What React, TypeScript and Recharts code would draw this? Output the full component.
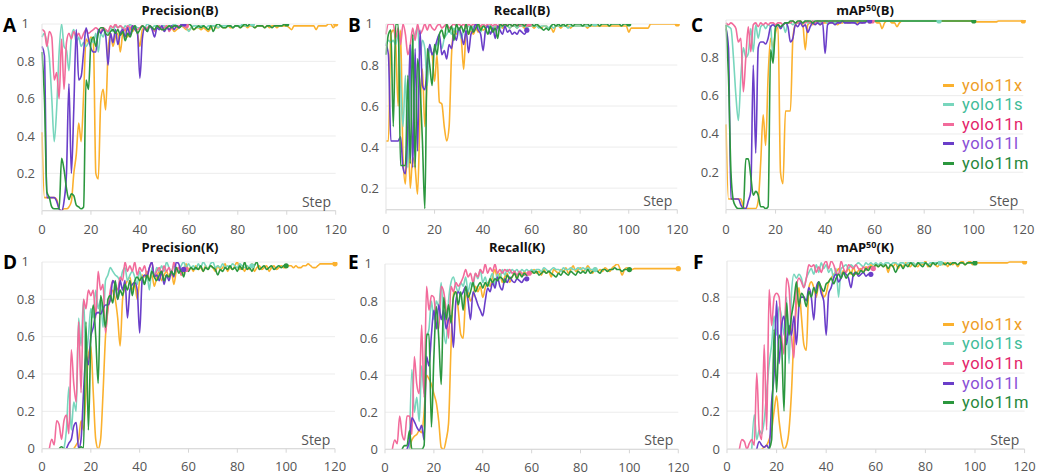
import { CartesianGrid, Line, LineChart, XAxis, YAxis } from "recharts";

const _ = null;

const STEPS = Array.from({ length: 121 }, (_v, i) => i);
const X_TICKS = [0, 20, 40, 60, 80, 100, 120];
const MODELS = ["yolo11x", "yolo11s", "yolo11n", "yolo11l", "yolo11m"];

// ---- Precision(B)
const precB_x = [
  .42, .07, .07, .07, .07, .07, .06, .01, 0, .01,
  .01, .02, .05, .2, .3, .47, .37, .62, .92, .9,
  .93, .9, .2, .17, .58, .65, .54, .85, .95, .88,
  .93, .95, .85, .95, .97, .93, .98, .96, .98, .95,
  .88, .97, .98, .97, .99, .98, .97, .99, .98, .97,
  .98, .99, .97, .98, .96, .97, .98, .99, .98, .97,
  .97, .98, .97, .98, .98, .97, .98, .97, .96, .98,
  .99, .98, .98, .99, .98, .98, .99, .98, .98, .99,
  .99, .98, .99, .99, .98, .99, .99, .98, .99, .99,
  .99, .98, .99, .98, .99, .99, .98, .99, .99, .99,
  .99, .98, .97, .99, .99, .99, .99, .99, .99, .99,
  .99, .99, .97, .99, .99, .99, .99, 1, 1, .98,
  1,
];
const precB_s = [
  .93, .95, .9, .82, .6, .37, .55, .85, 1, .88,
  .86, .75, .93, .97, .9, .93, .88, .9, .88, .9,
  .92, .9, .95, .85, .95, .93, .97, .95, .98, .96,
  .99, .98, .99, .97, .99, .98, 1, .98, .99, .98,
  .98, .99, .98, 1, .99, .98, .99, .99, .98, .99,
  .99, .98, .99, .99, 1, .99, .98, .99, .99, .98,
  .96, .98, .99, .99, .98, .99, .99, .98, .99, .99,
  .99, .99, .98, .99, .99, .99, .99, .99, .98, .99,
  .99, .99, 1, .99, .99, 1, 1,
];
const precB_n = [
  .97, .96, .88, .96, .93, .7, .74, .6, .92, .65,
  .9, .95, .92, .96, .93, .95, .92, .95, .97, .95,
  .96, .97, .98, .97, .96, .98, .97, .96, .99, .98,
  1, .98, .99, .98, .97, .99, .98, .99, .98, .97,
  .98, .99, .97, .98, .99, .98, .96, .98, .99, .97,
  .98, .99, .96, .98, .99, .98, .99, .99, 1, .99,
];
const precB_l = [
  .88, .83, .07, .07, .07, .07, .05, .01, 0, .05,
  .2, .68, .2, .55, .97, .7, .72, .85, .98, .92,
  .87, .85, .85, .97, .95, .97, .94, .78, .95, .9,
  .97, .89, .95, .97, .93, .98, .94, .99, .97, .95,
  .71, .92, .98, .96, .99, .97, .93, .98, .97, .99,
  .96, .98, .97, .99, .97, .99, .98, 1, 1,
];
const precB_m = [
  .85, .6, .1, .07, .02, .01, .01, .01, .28, .22,
  .12, .06, .09, .08, .03, .02, .01, .02, .7, .65,
  .9, .93, .88, .95, .98, .98, .95, .94, .96, .97,
  .95, .97, .94, .96, .91, .95, .93, .97, .99, .95,
  .97, .99, .98, .96, .99, .98, .97, .99, .98, .97,
  .97, .98, .99, .98, .99, .99, .98, .99, 1, .99,
  1, .99, .97, .98, .99, .98, .99, .98, .97, .99,
  .96, .99, 1, .99, .98, .98, .99, .99, .98, .99,
  .99, .98, .99, 1, .99, 1, .99, .98, .99, .99,
  .99, .98, .99, .99, .98, .99, .99, .99, .99, 1,
  1,
];

// ---- Recall(B)
const recB_x = [
  .43, .43, .95, .97, .9, .6, .97, .35, .22, .5,
  .2, .35, .3, .17, .55, .78, .5, .75, .88, .85,
  .72, .85, .62, .61, .5, .43, .5, .85, .97, .95,
  .98, .93, .78, .96, .95, .97, .95, .98, .96, .99,
  .97, .98, .99, .98, .97, .99, .98, .99, .98, .99,
  .99, .98, .99, .99, .98, .99, .99, .98, .99, .99,
  .99, .98, .99, .99, .98, .99, .99, .98, .98, .96,
  .99, .99, .98, .99, .99, .99, .98, .99, .99, .99,
  .99, .99, .99, .98, .99, .99, .99, .99, .99, .99,
  .99, .99, .99, .99, .99, .99, .99, .99, .99, .99,
  .96, .98, .98, .98, .98, .98, .98, .98, .98, 1,
  1, 1, 1, 1, 1, 1, 1, 1, 1, 1,
  1,
];
const recB_s = [
  .9, .92, .91, .92, .9, .95, .72, .5, .75, .3,
  .75, .9, .95, .98, .85, .92, .88, .7, .9, .85,
  .87, .9, .92, .88, .93, .95, .97, .95, .98, .96,
  .98, .93, .97, .98, .99, .97, .99, .98, .99, .96,
  .99, .98, .99, .99, .98, .99, .99, .98, .99, .99,
  .99, .98, .99, .99, .98, .99, .99, .99, .98, .99,
  .99, .99, .99, .98, .99, .99, .99, .98, .99, .98,
  .99, .99, .99, .99, .99, .98, .99, .99, .99, .99,
  .99, .99, .99, .99, .99, 1, 1,
];
const recB_n = [
  .95, 1, 1, 1, .93, .98, .9, 1, .95, .85,
  .9, .98, .92, 1, .95, .97, 1, .97, 1, .98,
  .97, .99, 1, .98, .99, 1, .98, .99, 1, .99,
  1, .99, 1, .98, 1, .99, 1, .99, 1, .99,
  1, .99, 1, 1, .99, 1, .99, 1, 1, .99,
  1, 1, .99, 1, 1, .99, 1, 1, .99, 1,
];
const recB_l = [
  .9, .85, .43, .43, .43, .43, .45, .3, .27, .5,
  .9, .3, .88, .38, .97, .7, .68, .8, .9, .85,
  .88, .92, .95, .85, .87, .83, .9, .88, .95, .92,
  .98, .95, .9, .97, .86, .95, .97, 1, .97, .95,
  .87, .97, .99, .95, .98, .93, .99, .97, .95, .99,
  .96, .97, .95, .96, .95, .97, .96, .95, .97,
];
const recB_m = [
  .85, .95, .97, .5, 1, 1, .31, .31, .31, .75,
  .32, .95, .3, .83, .7, .43, .1, .88, .8, .7,
  .9, .85, .95, .97, .93, 1, .96, .99, .92, 1,
  .97, .99, .96, 1, .95, .99, .96, .98, 1, .97,
  .99, .98, .95, .99, .96, .98, .93, 1, .99, 1,
  .99, 1, .99, 1, .99, 1, 1, .99, 1, .99,
  1, .99, 1, .99, .98, .97, .98, .97, .99, 1,
  .99, 1, .99, 1, .99, 1, 1, .99, 1, 1,
  1, .99, 1, 1, .99, 1, 1, 1, .99, 1,
  1, 1, .99, 1, 1, 1, 1, .99, 1, 1,
  1,
];

// ---- mAP50(B)
const mapB_x = [
  .45, .06, .06, .06, .06, .06, .06, .02, .01, .01,
  .01, .01, .01, .05, .25, .5, .34, .7, .9, .85,
  .93, .96, .2, .14, .52, .52, .52, .9, .97, .98,
  .98, .97, .84, .97, .98, .97, .98, .98, .97, .98,
  .98, .98, .99, .98, .98, .97, .98, .98, .99, .98,
  .98, .99, .98, .98, .99, .98, .99, .99, .98, .99,
  .99, .98, .98, .95, .98, .99, .99, .98, .98, .96,
  .98, .99, .99, .99, .99, .99, .99, .99, .99, .99,
  .99, .99, .99, .99, .99, .99, .99, .99, .99, .99,
  .99, .99, .99, .99, .99, .99, .99, .99, .99, .99,
  .99, .985, .985, .985, .985, .985, .985, .985, .985, .985,
  .99, .99, .99, .99, .99, .99, .99, .99, .99, .99,
  .99,
];
const mapB_s = [
  .97, .96, .95, .8, .6, .47, .7, .85, .8, .82,
  .95, .83, .97, .9, .96, .97, .95, .97, .96, .8,
  .95, .97, .96, .97, .93, .98, .98, .97, .98, .98,
  .98, .98, .99, .98, .98, .99, .98, .99, .98, .99,
  .99, .98, .99, .99, .98, .99, .99, .99, .98, .99,
  .99, .99, .98, .99, .99, .99, .99, .99, .99, .99,
  .99, .99, .99, .99, .99, .99, .99, .99, .99, .99,
  .99, .99, .99, .99, .99, .99, .99, .99, .99, .99,
  .99, .99, .99, .99, .99, .99, .99,
];
const mapB_n = [
  .98, .97, .98, .97, .95, .88, .9, .62, .8, .96,
  .83, .97, .98, .96, .98, .97, .98, .97, .98, .98,
  .97, .98, .98, .97, .98, .98, .98, .99, .98, .98,
  .99, .98, .98, .99, .98, .99, .98, .99, .99, .98,
  .99, .99, .98, .99, .99, .99, .98, .99, .99, .99,
  .99, .99, .99, .99, .99, .98, .99, .99, .99, .99,
];
const mapB_l = [
  .95, .85, .06, .06, .06, .06, .03, .01, .01, .05,
  .1, .76, .3, .85, .88, .88, .87, .9, .96, .97,
  .96, .97, .95, .97, .98, .96, .88, .9, .97, .96,
  .98, .96, .97, .93, .96, .98, .97, .98, .97, .98,
  .82, .97, .98, .98, .97, .98, .98, .99, .98, .98,
  .98, .98, .98, .97, .98, .98, .98, .99, .99,
];
const mapB_m = [
  .97, .7, .2, .05, .02, .01, .01, .01, .27, .27,
  .18, .08, .1, .08, .02, .02, .01, .02, .84, .77,
  .96, .97, .96, .97, .98, .98, .99, .99, .98, .99,
  .99, .98, .99, .99, .99, .98, .99, .99, .99, .99,
  .99, .99, .99, .99, .99, .99, .99, .99, .99, .99,
  .99, .99, .99, .99, .99, .99, .99, .99, .99, .99,
  .99, .99, .99, .99, .99, .99, .99, .99, .99, .99,
  .99, .99, .99, .99, .99, .99, .99, .99, .99, .99,
  .99, .99, .99, .99, .99, .99, .99, .99, .99, .99,
  .99, .99, .99, .99, .99, .99, .99, .99, .99, .99,
  .99,
];

// ---- Precision(K)
const precK_x = [
  _, _, _, _, _, _, _, _, _, _,
  _, _, _, 0, .02, .05, .15, .1, .3, .5,
  .55, .3, .05, 0, .05, .3, .6, .75, .8, .85,
  .8, .7, .55, .8, .87, .9, .92, .85, .88, .8,
  .9, .93, .92, .95, .9, .93, .87, .92, .95, .9,
  .93, .95, .92, .95, .88, .95, .97, .93, .95, .99,
  .96, .97, .95, .98, .96, .97, .95, .98, .96, .98,
  .97, .95, .98, .96, .97, .99, .95, .97, .96, .98,
  1, .96, .97, .95, .98, .96, .99, .95, .97, .98,
  .96, .97, .98, .95, .97, .98, .96, .97, .98, .97,
  .97, .98, .98, .97, .98, .97, .97, .98, .98, .99,
  .98, .97, .97, .98, .99, .99, .99, .99, .99, .99,
  .99,
];
const precK_s = [
  _, _, _, _, _, _, _, _, _, 0,
  .1, .33, .1, .25, .2, .7, .55, .8, .5, .6,
  .75, .7, .85, .75, .8, .65, .9, .93, .97, .95,
  .93, .92, .9, .95, .97, .9, .93, .95, .92, .88,
  .95, .9, .88, .93, .85, .97, .92, .97, .95, .98,
  .95, 1, .97, .95, .98, .97, .95, .98, 1, .97,
  .99, .97, .98, .96, .99, .97, 1, .98, .96, .99,
  1, .97, .98, .97, .99, .97, .98, .97, .99, .98,
  .97, .99, .98, .97, .98, .97, .98,
];
const precK_n = [
  _, _, _, 0, .05, .02, .15, .13, .05, .15,
  .18, .08, .53, .35, .25, .68, .3, .8, .75, .85,
  .82, .85, .7, .95, .85, .88, .62, .75, .85, .9,
  .88, .85, .92, .9, 1, .95, .98, .95, 1, .93,
  .97, .95, .98, .93, .97, 1, .92, .95, .97, .93,
  .98, .95, .97, .93, 1, .95, .97, .93, .97, .96,
];
const precK_l = [
  _, _, _, _, _, _, _, _, _, _,
  0, .03, .05, .12, .14, 0, .05, .3, .5, .45,
  .6, .65, .72, .73, .72, .75, .77, .77, .8, .9,
  .87, .8, .9, .85, .9, .7, .85, .88, .89, .85,
  .62, .9, .93, .92, .97, 1, .92, .93, .9, .95,
  .88, .93, .9, .95, .92, 1, .99, .95, .96,
];
const precK_m = [
  _, _, _, _, _, _, _, 0, .01, 0,
  0, 0, 0, 0, 0, 0, .01, 0, .68, .1,
  .6, .77, .6, .35, .82, .75, .65, .8, .82, .78,
  .9, .8, .85, .82, .88, .85, .9, .82, .9, .92,
  .9, .92, .88, .93, .9, .95, .92, .9, .93, .95,
  .9, .93, .92, .95, .93, .97, .94, .96, .92, .97,
  .95, .97, .96, .97, .96, .98, .95, .97, .96, .98,
  .97, .96, .93, .96, .95, .97, .96, .98, .96, .97,
  .95, .98, .96, 1, .96, .97, .95, .98, 1, .96,
  .97, .98, .96, .97, .98, .96, .97, .98, .97, .98,
  .98,
];

// ---- Recall(K)
const recK_x = [
  _, _, _, _, _, _, _, _, _, _,
  0, .05, .07, .08, .1, .09, .2, .4, .38, .35,
  .3, .25, .15, .01, 0, .05, .14, .55, .85, .85,
  .75, .62, .6, .82, .85, .8, .83, .88, .85, .88,
  .82, .87, .9, .88, .93, .97, .92, .95, .9, .93,
  .95, .9, .93, .95, .92, .95, .94, .96, .94, .96,
  .95, .97, .95, .96, .94, .97, .95, .96, .93, .97,
  .96, .95, .97, .96, .98, .95, .97, .99, .96, .97,
  .98, .96, .97, .99, .97, .95, .98, .96, .97, .96,
  .98, .97, .96, .98, .99, 1, .98, .94, .97, .98,
  .97, .97, .975, .975, .975, .975, .975, .975, .975, .975,
  .975, .975, .975, .975, .975, .975, .975, .975, .975, .975,
  .975,
];
const recK_s = [
  _, _, _, _, _, _, _, _, _, _,
  0, .43, .2, .28, .15, .45, .3, .6, .65, .8,
  .7, .8, .77, .9, .65, .57, .8, .9, .93, .88,
  .85, .9, .88, .93, .85, .9, .88, .95, .92, .97,
  .9, .93, .88, .92, .95, .88, .95, .92, .97, .94,
  .97, .95, .97, .96, .97, .95, .97, .96, .97, .96,
  .97, .96, .97, .97, .96, .98, .97, .96, .97, .98,
  .97, .97, .96, .98, .97, .97, .98, .97, .97, .98,
  .97, .98, .97, .98, .97, .97, .97,
];
const recK_n = [
  _, _, _, 0, .05, .03, .18, .08, .05, .18,
  .18, .08, .5, .35, .3, .67, .28, .88, .75, .83,
  .82, .68, .65, .88, .85, .75, .6, .88, .85, .9,
  .88, .9, .93, .97, .93, .95, .9, .95, .93, .97,
  .95, 1, .95, .98, .96, 1, .95, .97, .95, .97,
  .96, .97, .95, .96, .94, .96, .95, .94, .95, .95,
];
const recK_l = [
  _, _, _, _, _, _, _, _, _, 0,
  .05, .17, .15, .12, .1, .13, .05, .5, .45, .62,
  .75, .65, .78, .7, .75, .65, .7, .72, .55, .8,
  .85, .83, .85, .88, .8, .7, .85, .82, .78, .75,
  .72, .8, .87, .85, .9, .87, .93, .88, .86, .92,
  .9, .93, .91, .9, .92, .91, .9, .92, .92,
];
const recK_m = [
  _, _, _, _, _, _, _, 0, .02, .02,
  .1, 0, 0, 0, 0, 0, .02, .62, .62, .12,
  .5, .77, .6, .35, .82, .7, .78, .68, .82, .85,
  .78, .85, .75, .88, .82, .85, .9, .85, .88, .9,
  .87, .9, .88, .92, .9, .92, .91, .93, .92, .9,
  .94, .92, .93, .95, .92, .95, .93, .95, .94, .95,
  .96, .95, .96, .94, .95, .96, .95, .96, .95, .94,
  .93, .95, .94, .96, .95, .94, .96, .95, .94, .96,
  .95, .96, .95, .97, .95, .96, .97, .96, .95, .97,
  .97, .96, .97, .97, .98, .97, .97, .96, .97, .97,
  .97,
];

// ---- mAP50(K)
const mapK_x = [
  _, _, _, _, _, _, _, _, _, _,
  _, _, _, _, 0, .01, .02, .05, .1, .2,
  .28, .15, .05, 0, .02, .1, .3, .6, .75, .85,
  .7, .55, .52, .85, .88, .85, .8, .87, .85, .8,
  .82, .88, .9, .92, .93, .95, .92, .94, .93, .95,
  .92, .96, .92, .94, .95, .93, .96, .95, .97, .96,
  .97, .96, .98, .96, .97, .93, .97, .96, .98, .95,
  .97, .96, .98, .97, .96, .98, .97, .96, .98, .97,
  .99, .96, .97, .98, .97, .96, .98, .97, .98, .96,
  .98, .97, .98, .96, .98, .99, .97, .98, .99, .97,
  .98, .98, .98, .98, .98, .98, .98, .98, .98, .98,
  .98, .98, .98, .98, .985, .985, .985, .985, .985, .985,
  .985,
];
const mapK_s = [
  _, _, _, _, _, _, _, _, _, _,
  0, .18, .05, .1, .08, .15, .3, .45, .55, .7,
  .6, .75, .7, .6, .8, .45, .82, .92, .9, .92,
  .9, .85, .9, .93, .95, .92, .97, .93, .98, .95,
  .97, .93, .95, .9, .95, .8, .95, .96, .97, .95,
  .97, .96, .97, .98, .97, .96, .98, .97, .98, .97,
  .98, .97, .98, .97, .98, .98, .97, .98, .98, .97,
  .98, .98, .97, .98, .98, .98, .97, .98, .98, .98,
  .98, .97, .98, .98, .98, .98, .98,
];
const mapK_n = [
  _, _, _, _, _, 0, .05, .04, 0, .03,
  .05, .02, .4, .1, .05, .55, .1, .84, .65, .8,
  .82, .8, .6, .5, .9, .85, .6, .48, .85, .9,
  .88, .85, .9, .97, .96, .97, .93, .96, .93, .97,
  .99, .95, .99, .97, .93, .92, .99, .95, .93, .97,
  .96, .95, .97, .95, .94, .96, .94, .96, .95, .95,
];
const mapK_l = [
  _, _, _, _, _, _, _, _, _, _,
  _, _, 0, .04, .02, .01, .02, 0, .25, .4,
  .78, .45, .65, .7, .55, .65, .6, .7, .55, .75,
  .8, .8, .78, .85, .8, .68, .85, .88, .82, .78,
  .6, .82, .85, .9, .92, .88, .9, .93, .92, .9,
  .85, .92, .93, .91, .92, .93, .91, .92, .92,
];
const mapK_m = [
  _, _, _, _, _, _, _, _, _, _,
  _, _, _, _, _, _, _, 0, .05, .63,
  .3, .6, .55, .2, .77, .6, .7, .78, .88, .75,
  .82, .8, .75, .83, .8, .85, .82, .88, .85, .83,
  .87, .88, .9, .87, .9, .92, .9, .93, .9, .92,
  .93, .91, .93, .92, .94, .93, .95, .94, .96, .95,
  .97, .96, .97, .96, .97, .95, .97, .96, .93, .96,
  .97, .95, .97, .96, .98, .97, .96, .98, .97, .96,
  .98, .97, .96, .98, .97, .98, .97, .98, .97, .98,
  .97, .98, .98, .97, .98, .98, .97, .98, .98, .98,
  .98,
];

const LINE_COLORS: Record<string, string> = {
  yolo11x: "#fbb12e",
  yolo11s: "#78d6bd",
  yolo11n: "#f26b9b",
  yolo11l: "#6a3ec9",
  yolo11m: "#2b973e",
};
const TEXT_COLORS: Record<string, string> = {
  yolo11x: "#ee9e28",
  yolo11s: "#3fbc99",
  yolo11n: "#e3246a",
  yolo11l: "#8a4fd6",
  yolo11m: "#26883c",
};

const Y_W = 40;
const M_TOP = 10;
const M_RIGHT = 12;
const X_H = 30;

type Box = { x0: number; x1: number; y0: number; y1: number };

const YTick = (props: any) => {
  const { x, y, payload } = props;
  const v = payload.value as number;
  const label = v === 0 ? "0" : v === 1 ? "1" : v.toFixed(1);
  return (
    <text x={v === 1 ? x - 6 : x} y={y} dy={4.5} textAnchor="end" fill="#555" fontSize={13}>
      {label}
    </text>
  );
};

const endDot = (color: string, last: number) => (props: any) => {
  const { cx, cy, index } = props;
  if (index !== last || cx == null || cy == null) return <g key={`d-${index}`} />;
  return <circle key={`d-${index}`} cx={cx} cy={cy} r={2.6} fill={color} stroke="none" />;
};

function Panel({
  box,
  series,
  yDomain,
  yTicks,
  tickGap,
}: {
  box: Box;
  series: (number | null)[][];
  yDomain: [number, number];
  yTicks: number[];
  tickGap: number;
}) {
  const rows = STEPS.map((step) => {
    const row: Record<string, number | null> = { step };
    MODELS.forEach((m, k) => {
      const v = series[k][step];
      row[m] = v === undefined ? null : v;
    });
    return row;
  });
  const width = box.x1 - box.x0 + Y_W + M_RIGHT;
  const height = box.y1 - box.y0 + M_TOP + X_H;
  return (
    <div style={{ position: "absolute", left: box.x0 - Y_W, top: box.y0 - M_TOP }}>
      <LineChart width={width} height={height} data={rows} margin={{ top: M_TOP, right: M_RIGHT, left: 0, bottom: 0 }}>
        <CartesianGrid vertical={false} stroke="#ececec" />
        <XAxis
          type="number"
          dataKey="step"
          domain={[0, 120]}
          ticks={X_TICKS}
          height={X_H}
          tickSize={4}
          tickMargin={tickGap}
          tickLine={{ stroke: "#d6d6d6" }}
          axisLine={{ stroke: "#d6d6d6" }}
          tick={{ fill: "#555", fontSize: 13 }}
        />
        <YAxis
          type="number"
          domain={yDomain}
          ticks={yTicks}
          width={Y_W}
          tickSize={0}
          tickMargin={7}
          tickLine={false}
          axisLine={{ stroke: "#e2e2e2" }}
          tick={<YTick />}
          allowDataOverflow
        />
        {MODELS.map((m, k) => (
          <Line
            key={m}
            type="monotone"
            dataKey={m}
            stroke={LINE_COLORS[m]}
            strokeWidth={1.6}
            dot={endDot(LINE_COLORS[m], series[k].length - 1)}
            activeDot={false}
            isAnimationActive={false}
          />
        ))}
      </LineChart>
    </div>
  );
}

const abs = (style: React.CSSProperties): React.CSSProperties => ({ position: "absolute", ...style });

function Title({ cx, cy, children }: { cx: number; cy: number; children: React.ReactNode }) {
  return (
    <div style={abs({ left: cx - 100, top: cy - 9, width: 200, lineHeight: "18px", textAlign: "center", fontSize: 13, fontWeight: 700, color: "#111" })}>
      {children}
    </div>
  );
}

function Letter({ x, cy, text }: { x: number; cy: number; text: string }) {
  return (
    <div style={abs({ left: x, top: cy - 12, lineHeight: "24px", fontSize: 19, fontWeight: 700, color: "#000" })}>{text}</div>
  );
}

function StepLabel({ box }: { box: Box }) {
  return (
    <div style={abs({ left: box.x1 - 105, top: box.y1 - 19, width: 100, lineHeight: "20px", textAlign: "right", fontSize: 14, color: "#555" })}>
      Step
    </div>
  );
}

function Legend({ top }: { top: number }) {
  return (
    <>
      {MODELS.map((m, k) => (
        <div key={m} style={abs({ left: 943, top: top + k * 19.6 - 9.5, height: 19, display: "flex", alignItems: "center" })}>
          <div style={{ width: 11, height: 3, background: LINE_COLORS[m], marginRight: 8 }} />
          <span style={{ fontFamily: "Roboto, sans-serif", fontSize: 16.5, letterSpacing: 0.5, lineHeight: "19px", color: TEXT_COLORS[m] }}>{m}</span>
        </div>
      ))}
    </>
  );
}

const MapTitle = ({ tag }: { tag: string }) => (
  <span>
    mAP<sup style={{ fontSize: 9, verticalAlign: "4px", lineHeight: 0 }}>50</sup>({tag})
  </span>
);

const BOX_A: Box = { x0: 42.3, x1: 336, y0: 24.3, y1: 211 };
const BOX_B: Box = { x0: 386, x1: 677.3, y0: 24.3, y1: 210 };
const BOX_C: Box = { x0: 726, x1: 1023.3, y0: 19.9, y1: 209.5 };
const BOX_D: Box = { x0: 42.3, x1: 335.3, y0: 262.3, y1: 449 };
const BOX_E: Box = { x0: 385, x1: 678.3, y0: 263.7, y1: 449 };
const BOX_F: Box = { x0: 726.7, x1: 1024.3, y0: 260.9, y1: 449 };

export default function App() {
  return (
    <div style={abs({ left: 0, top: 0, width: 1038, height: 474, background: "#fff", fontFamily: "'Open Sans', sans-serif", overflow: "hidden" })}>
      <Panel box={BOX_A} series={[precB_x, precB_s, precB_n, precB_l, precB_m]} yDomain={[0, 1]} yTicks={[0.2, 0.4, 0.6, 0.8, 1]} tickGap={10} />
      <Panel box={BOX_B} series={[recB_x, recB_s, recB_n, recB_l, recB_m]} yDomain={[0.095, 1]} yTicks={[0.2, 0.4, 0.6, 0.8, 1]} tickGap={11} />
      <Panel box={BOX_C} series={[mapB_x, mapB_s, mapB_n, mapB_l, mapB_m]} yDomain={[0.005, 0.995]} yTicks={[0.2, 0.4, 0.6, 0.8]} tickGap={11} />
      <Panel box={BOX_D} series={[precK_x, precK_s, precK_n, precK_l, precK_m]} yDomain={[0, 1]} yTicks={[0, 0.2, 0.4, 0.6, 0.8, 1]} tickGap={9} />
      <Panel box={BOX_E} series={[recK_x, recK_s, recK_n, recK_l, recK_m]} yDomain={[0, 1]} yTicks={[0, 0.2, 0.4, 0.6, 0.8, 1]} tickGap={9} />
      <Panel box={BOX_F} series={[mapK_x, mapK_s, mapK_n, mapK_l, mapK_m]} yDomain={[0, 0.99]} yTicks={[0, 0.2, 0.4, 0.6, 0.8]} tickGap={9} />

      <Title cx={180} cy={10}>Precision(B)</Title>
      <Title cx={522} cy={10}>Recall(B)</Title>
      <Title cx={865} cy={10}><MapTitle tag="B" /></Title>
      <Title cx={180} cy={247}>Precision(K)</Title>
      <Title cx={517} cy={247}>Recall(K)</Title>
      <Title cx={865} cy={247}><MapTitle tag="K" /></Title>

      <Letter x={3} cy={25} text="A" />
      <Letter x={348} cy={25} text="B" />
      <Letter x={691} cy={25} text="C" />
      <Letter x={3} cy={262} text="D" />
      <Letter x={348} cy={262} text="E" />
      <Letter x={693} cy={262} text="F" />

      <StepLabel box={BOX_A} />
      <StepLabel box={BOX_B} />
      <StepLabel box={BOX_C} />
      <StepLabel box={BOX_D} />
      <StepLabel box={BOX_E} />
      <StepLabel box={BOX_F} />

      <Legend top={85} />
      <Legend top={324.3} />
    </div>
  );
}
